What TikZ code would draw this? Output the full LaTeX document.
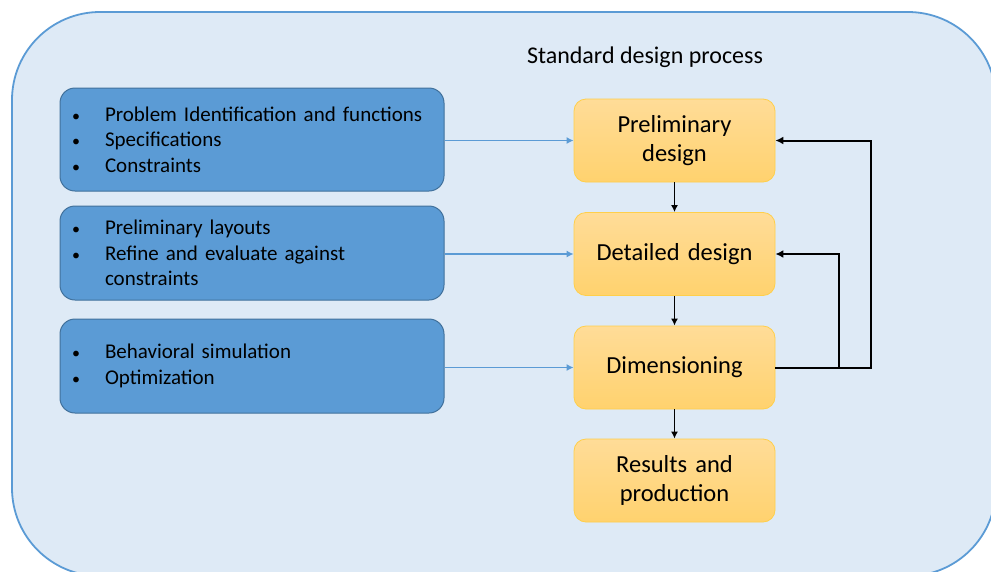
\documentclass[tikz,border=0pt]{standalone}
\usepackage{fontspec}
\setmainfont{Carlito}
\usepackage{tikz}
\usetikzlibrary{positioning,arrows.meta}

\definecolor{panelfill}{HTML}{DEEAF6}
\definecolor{paneledge}{HTML}{5B9BD5}
\definecolor{taskfill}{HTML}{5B9BD5}
\definecolor{taskedge}{HTML}{41719C}
\definecolor{steptop}{HTML}{FFDC98}
\definecolor{stepbottom}{HTML}{FFD26E}
\definecolor{stepedge}{HTML}{FFCF4A}
\definecolor{feedline}{HTML}{5B9BD5}

\newcommand{\bul}{\makebox[35pt][l]{\hspace*{2pt}\fontsize{16}{16}\selectfont\textbullet}}
\newcommand{\cont}{\hspace*{35pt}}

\begin{document}
\begin{tikzpicture}[x=1pt,y=-1pt,
    taskbox/.style={draw=taskedge, fill=taskfill, line width=1pt, rounded corners=15pt,
        minimum width=384pt, minimum height=103pt, text width=364pt, inner xsep=10pt,
        align=left, font=\fontsize{21}{25.5}\selectfont},
    stepbox/.style={draw=stepedge, line width=0.8pt, top color=steptop, bottom color=stepbottom,
        rounded corners=12pt, minimum width=201pt, minimum height=83pt, text width=190pt,
        align=center, font=\fontsize{24.5}{28.5}\selectfont},
    feed/.style={feedline, line width=1.3pt, -{Latex[length=7pt,width=7pt]}},
    flow/.style={black, line width=1.9pt, -{Latex[length=7pt,width=7pt]}},
    back/.style={black, line width=2pt, -{Latex[length=8pt,width=8pt]}}]
    \useasboundingbox (0,0) rectangle (991,571);
    \clip (0,0) rectangle (991,571);

    % panel
    \draw[draw=paneledge, fill=panelfill, line width=1.8pt, rounded corners=88pt]
        (12,12) rectangle (996,576);
    \node[font=\fontsize{24}{28}\selectfont, anchor=base] (title) at (645,63) {Standard design process};

    % inputs
    \node[taskbox] (spec) at (252,139.5) {\bul Problem Identification and functions\\
        \bul Specifications\\ \bul Constraints};
    \node[taskbox, minimum height=94pt] (layout) at (252,253) {\bul Preliminary layouts\\
        \bul Refine and evaluate against\\ \cont constraints};
    \node[taskbox, minimum height=94pt] (sim) at (252,366) {\bul Behavioral simulation\\
        \bul Optimization\\[6pt]};

    % design steps
    \node[stepbox] (prelim) at (674.5,140.5) {Preliminary\\ design};
    \node[stepbox] (detail) at (674.5,254) {Detailed design};
    \node[stepbox] (dim) at (674.5,367.5) {Dimensioning};
    \node[stepbox] (result) at (674.5,480.5) {Results and\\ production};

    \coordinate (outer) at (871,367.5);
    \coordinate (inner) at (839,367.5);

    \draw[feed] (spec.east |- prelim.west) -- (prelim.west);
    \draw[feed] (layout.east |- detail.west) -- (detail.west);
    \draw[feed] (sim.east |- dim.west) -- (dim.west);

    \draw[flow] (prelim) -- (detail);
    \draw[flow] (detail) -- (dim);
    \draw[flow] (dim) -- (result);

    \draw[back] (dim.east) -- (outer) |- (prelim.east);
    \draw[back] (inner) |- (detail.east);
\end{tikzpicture}
\end{document}
